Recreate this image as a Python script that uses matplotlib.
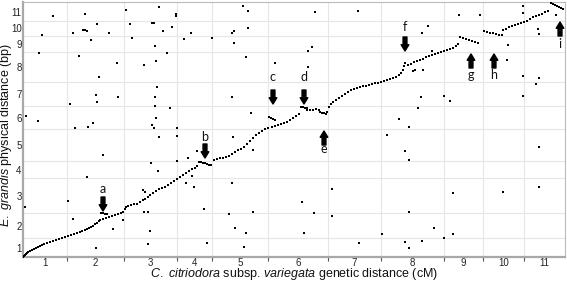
import matplotlib
matplotlib.use("Agg")
import matplotlib.pyplot as plt
import numpy as np

# Chromosome (linkage group) lengths
genetic_len_cM = [88, 114, 106, 70, 112, 120, 106, 126, 78, 82, 82]
physical_len_Mb = [38, 50, 70, 34, 64, 46, 48, 60, 32, 30, 38]
chrom_labels = ["1", "2", "3", "4", "5", "6", "7", "8", "9", "10", "11"]

# Collinear markers (cumulative genetic cM, cumulative physical Mb)
diag_x = [0, 2, 4, 6, 8, 10, 14, 18, 22, 26, 30, 34, 38, 42, 48, 54, 60, 66, 72, 78, 84,
          90, 96, 102, 108, 114, 118, 124, 128, 132, 136, 140, 144, 148, 152, 154, 160, 166,
          172, 178, 184, 190, 196, 200, 156, 160, 164, 168,
          204, 206, 210, 216, 222, 228, 234, 240, 244, 250, 254, 260, 266, 272, 278, 284, 290,
          296, 302, 308, 314, 320, 326, 332, 338, 344, 348,
          352, 356, 360, 364, 368, 372, 376,
          382, 388, 394, 400, 406, 412, 418, 424, 430, 436, 442, 448, 454, 460, 466, 472, 478,
          484, 490, 492, 496, 500, 504,
          498, 504, 510, 516, 522, 528, 534, 540, 546, 552, 556, 560, 564, 568,
          568, 574, 580, 586, 592, 594, 598, 602, 606, 608,
          612, 616, 620, 626, 632, 638, 644, 650, 656, 662, 668, 674, 680, 686, 692, 698, 704, 710,
          716, 722, 728, 734, 740, 746, 752, 756, 760, 762, 764, 770, 776, 782, 788, 794, 800,
          806, 812, 818, 824, 830, 836, 842, 780, 784, 800,
          848, 854, 860, 866, 870, 874, 880, 886, 892, 898, 904, 910,
          922, 928, 934, 940, 946, 952, 958, 960, 966, 972, 978, 984, 990, 996, 1002,
          1008, 1014, 1020, 1026, 1032, 1038, 1044, 1050, 1056, 1060, 1064, 1068, 1072, 1076, 1080]
diag_y = [0, 2, 4, 6, 8, 10, 12, 14, 16, 18, 20, 22, 24, 26, 28, 30, 32, 34, 36, 38, 40,
          42, 44, 46, 48, 50, 52, 54, 56, 58, 60, 62, 66, 68, 72, 74, 76, 78,
          80, 82, 84, 86, 88, 90, 88, 88, 86, 86,
          96, 100, 102, 104, 106, 106, 110, 114, 116, 120, 124, 128, 132, 136, 138, 140, 144,
          148, 152, 156, 160, 164, 168, 172, 176, 178, 182,
          190, 190, 188, 188, 186, 184, 184,
          194, 196, 198, 198, 200, 202, 206, 210, 214, 216, 220, 226, 232, 238, 244, 248, 252,
          256, 258, 280, 278, 276, 274,
          260, 262, 264, 266, 268, 270, 274, 278, 282, 286, 300, 300, 298, 298,
          294, 294, 294, 296, 294, 290, 288, 288, 286, 290,
          300, 306, 310, 314, 318, 322, 326, 330, 334, 336, 338, 340, 342, 342, 344, 346, 348, 348,
          350, 352, 354, 356, 358, 360, 364, 368, 374, 382, 388, 384, 386, 390, 392, 394, 396,
          400, 402, 404, 406, 408, 410, 412, 372, 374, 374,
          414, 416, 418, 422, 426, 440, 438, 436, 434, 432, 430, 428,
          452, 450, 448, 448, 446, 444, 444, 454, 456, 460, 462, 464, 466, 468, 470,
          472, 476, 480, 482, 484, 486, 490, 492, 508, 507, 505, 503, 501, 499, 497]

# Non-collinear markers
off_x = [6, 30, 32, 38, 60, 94, 100, 104, 112, 120, 124, 128, 124, 130, 136, 140, 146, 148,
         148, 152, 172, 188, 190, 206, 214, 218, 242, 258, 262, 264, 266, 268, 264, 264, 266,
         258, 262, 272, 272, 280, 288, 294, 298, 306, 306, 308, 308, 322, 336,
         4, 90, 100, 128, 160, 146, 180, 200, 240, 244, 242, 250, 254, 250, 256, 270, 308,
         326, 330, 338, 342, 348,
         378, 418, 422, 422, 440, 450, 450, 446, 504, 418, 456, 420, 584, 570, 578, 570, 670,
         752, 728, 460, 418, 362, 412, 460, 424, 446, 368, 442, 558, 582, 618, 618, 562, 672,
         718, 1000, 1000, 872, 914, 810, 798, 818, 1030, 1032, 1066, 970, 968, 1000, 1032,
         1026, 1000, 796, 842, 854, 790, 772, 764, 772, 860, 960, 1032, 1032, 772, 822, 764,
         772, 798, 842, 860]
off_y = [282, 272, 408, 444, 482, 306, 448, 258, 402, 454, 454, 452, 486, 260, 434, 268,
         324, 310, 466, 360, 448, 388, 320, 494, 466, 438, 384, 468, 468, 422, 392, 340, 320,
         302, 278, 264, 258, 500, 240, 452, 408, 298, 460, 482, 486, 258, 242, 436, 448,
         100, 112, 76, 160, 204, 18, 56, 74, 134, 130, 90, 90, 52, 26, 188, 172, 192,
         148, 198, 162, 140, 212,
         438, 448, 452, 428, 502, 492, 458, 400, 388, 320, 288, 240, 490, 412, 420, 380, 492,
         276, 244, 214, 148, 96, 86, 90, 58, 48, 28, 20, 110, 88, 136, 82, 48, 28,
         46, 502, 488, 484, 484, 462, 448, 412, 456, 446, 484, 424, 394, 362, 358,
         346, 322, 320, 322, 312, 298, 260, 212, 194, 128, 130, 220, 140, 90, 58, 30,
         18, 32, 38, 46]

# Annotated discordant regions
arrow_labels = ["a", "b", "c", "d", "e", "f", "g", "h", "i"]
arrow_x = [160, 364, 500, 562, 602, 764, 896, 942, 1074]
arrow_tail = [120, 226, 334, 334, 224, 440, 378, 378, 442]
arrow_tip = [92, 198, 306, 306, 252, 412, 406, 406, 470]
label_y = [136, 240, 360, 360, 216, 460, 364, 364, 426]

plt.rcParams["mathtext.fontset"] = "custom"
plt.rcParams["mathtext.rm"] = "Liberation Sans"
plt.rcParams["mathtext.it"] = "Liberation Sans:italic"
plt.rcParams["font.family"] = ["Liberation Sans", "DejaVu Sans"]

fig = plt.figure(figsize=(5.67, 2.81), dpi=100)
ax = fig.add_axes([23 / 567, 24 / 281, 542 / 567, 255 / 281])

gx = np.concatenate([[0], np.cumsum(genetic_len_cM)])
gy = np.concatenate([[0], np.cumsum(physical_len_Mb)])

ax.set_xlim(0, gx[-1])
ax.set_ylim(0, gy[-1])

ax.set_xticks(gx[1:-1])
ax.set_yticks(gy[1:-1])
ax.set_xticklabels([])
ax.set_yticklabels([])
ax.set_xticks((gx[:-1] + gx[1:]) / 2, minor=True)
ax.set_yticks((gy[:-1] + gy[1:]) / 2, minor=True)
ax.set_xticklabels(chrom_labels, minor=True)
ax.set_yticklabels(chrom_labels, minor=True)
ax.tick_params(axis="x", which="major", length=3, width=0.8, color="#555555")
ax.tick_params(axis="y", which="major", length=0)
ax.tick_params(axis="both", which="minor", length=0, labelsize=7, colors="#222222")
ax.tick_params(axis="x", which="minor", pad=0.5)
ax.tick_params(axis="y", which="minor", pad=1)
ax.grid(True, which="major", color="#e6e6e6", lw=0.8)
ax.set_axisbelow(True)

for side in ["top", "right"]:
    ax.spines[side].set_color("#bbbbbb")
    ax.spines[side].set_linewidth(0.8)
for side in ["left", "bottom"]:
    ax.spines[side].set_color("#a8a8a8")
    ax.spines[side].set_linewidth(1.6)

ax.scatter(diag_x, diag_y, s=4, marker="s", c="black", linewidths=0, zorder=3)
ax.scatter(off_x, off_y, s=2.2, marker="s", c="black", linewidths=0, zorder=3)

for lab, x, t0, t1, ly in zip(arrow_labels, arrow_x, arrow_tail, arrow_tip, label_y):
    ax.annotate("", xy=(x, t1), xytext=(x, t0),
                arrowprops=dict(arrowstyle="simple,head_width=0.55,head_length=0.45,tail_width=0.28",
                                color="black", shrinkA=0, shrinkB=0, mutation_scale=10),
                zorder=4)
    ax.text(x, ly, lab, ha="center", va="center", fontsize=9, family="Lato", color="#111111")

fig.text(294 / 567, 1 - 274.5 / 281,
         r"$\it{C.\ citriodora}$ subsp. $\it{variegata}$ genetic distance (cM)",
         ha="center", va="center", fontsize=9, color="#111111")
fig.text(6.5 / 567, 1 - 135 / 281,
         r"$\it{E.\ grandis}$ physical distance (bp)",
         ha="center", va="center", rotation=90, fontsize=9, color="#111111")

fig.savefig("out.png", dpi=100)
